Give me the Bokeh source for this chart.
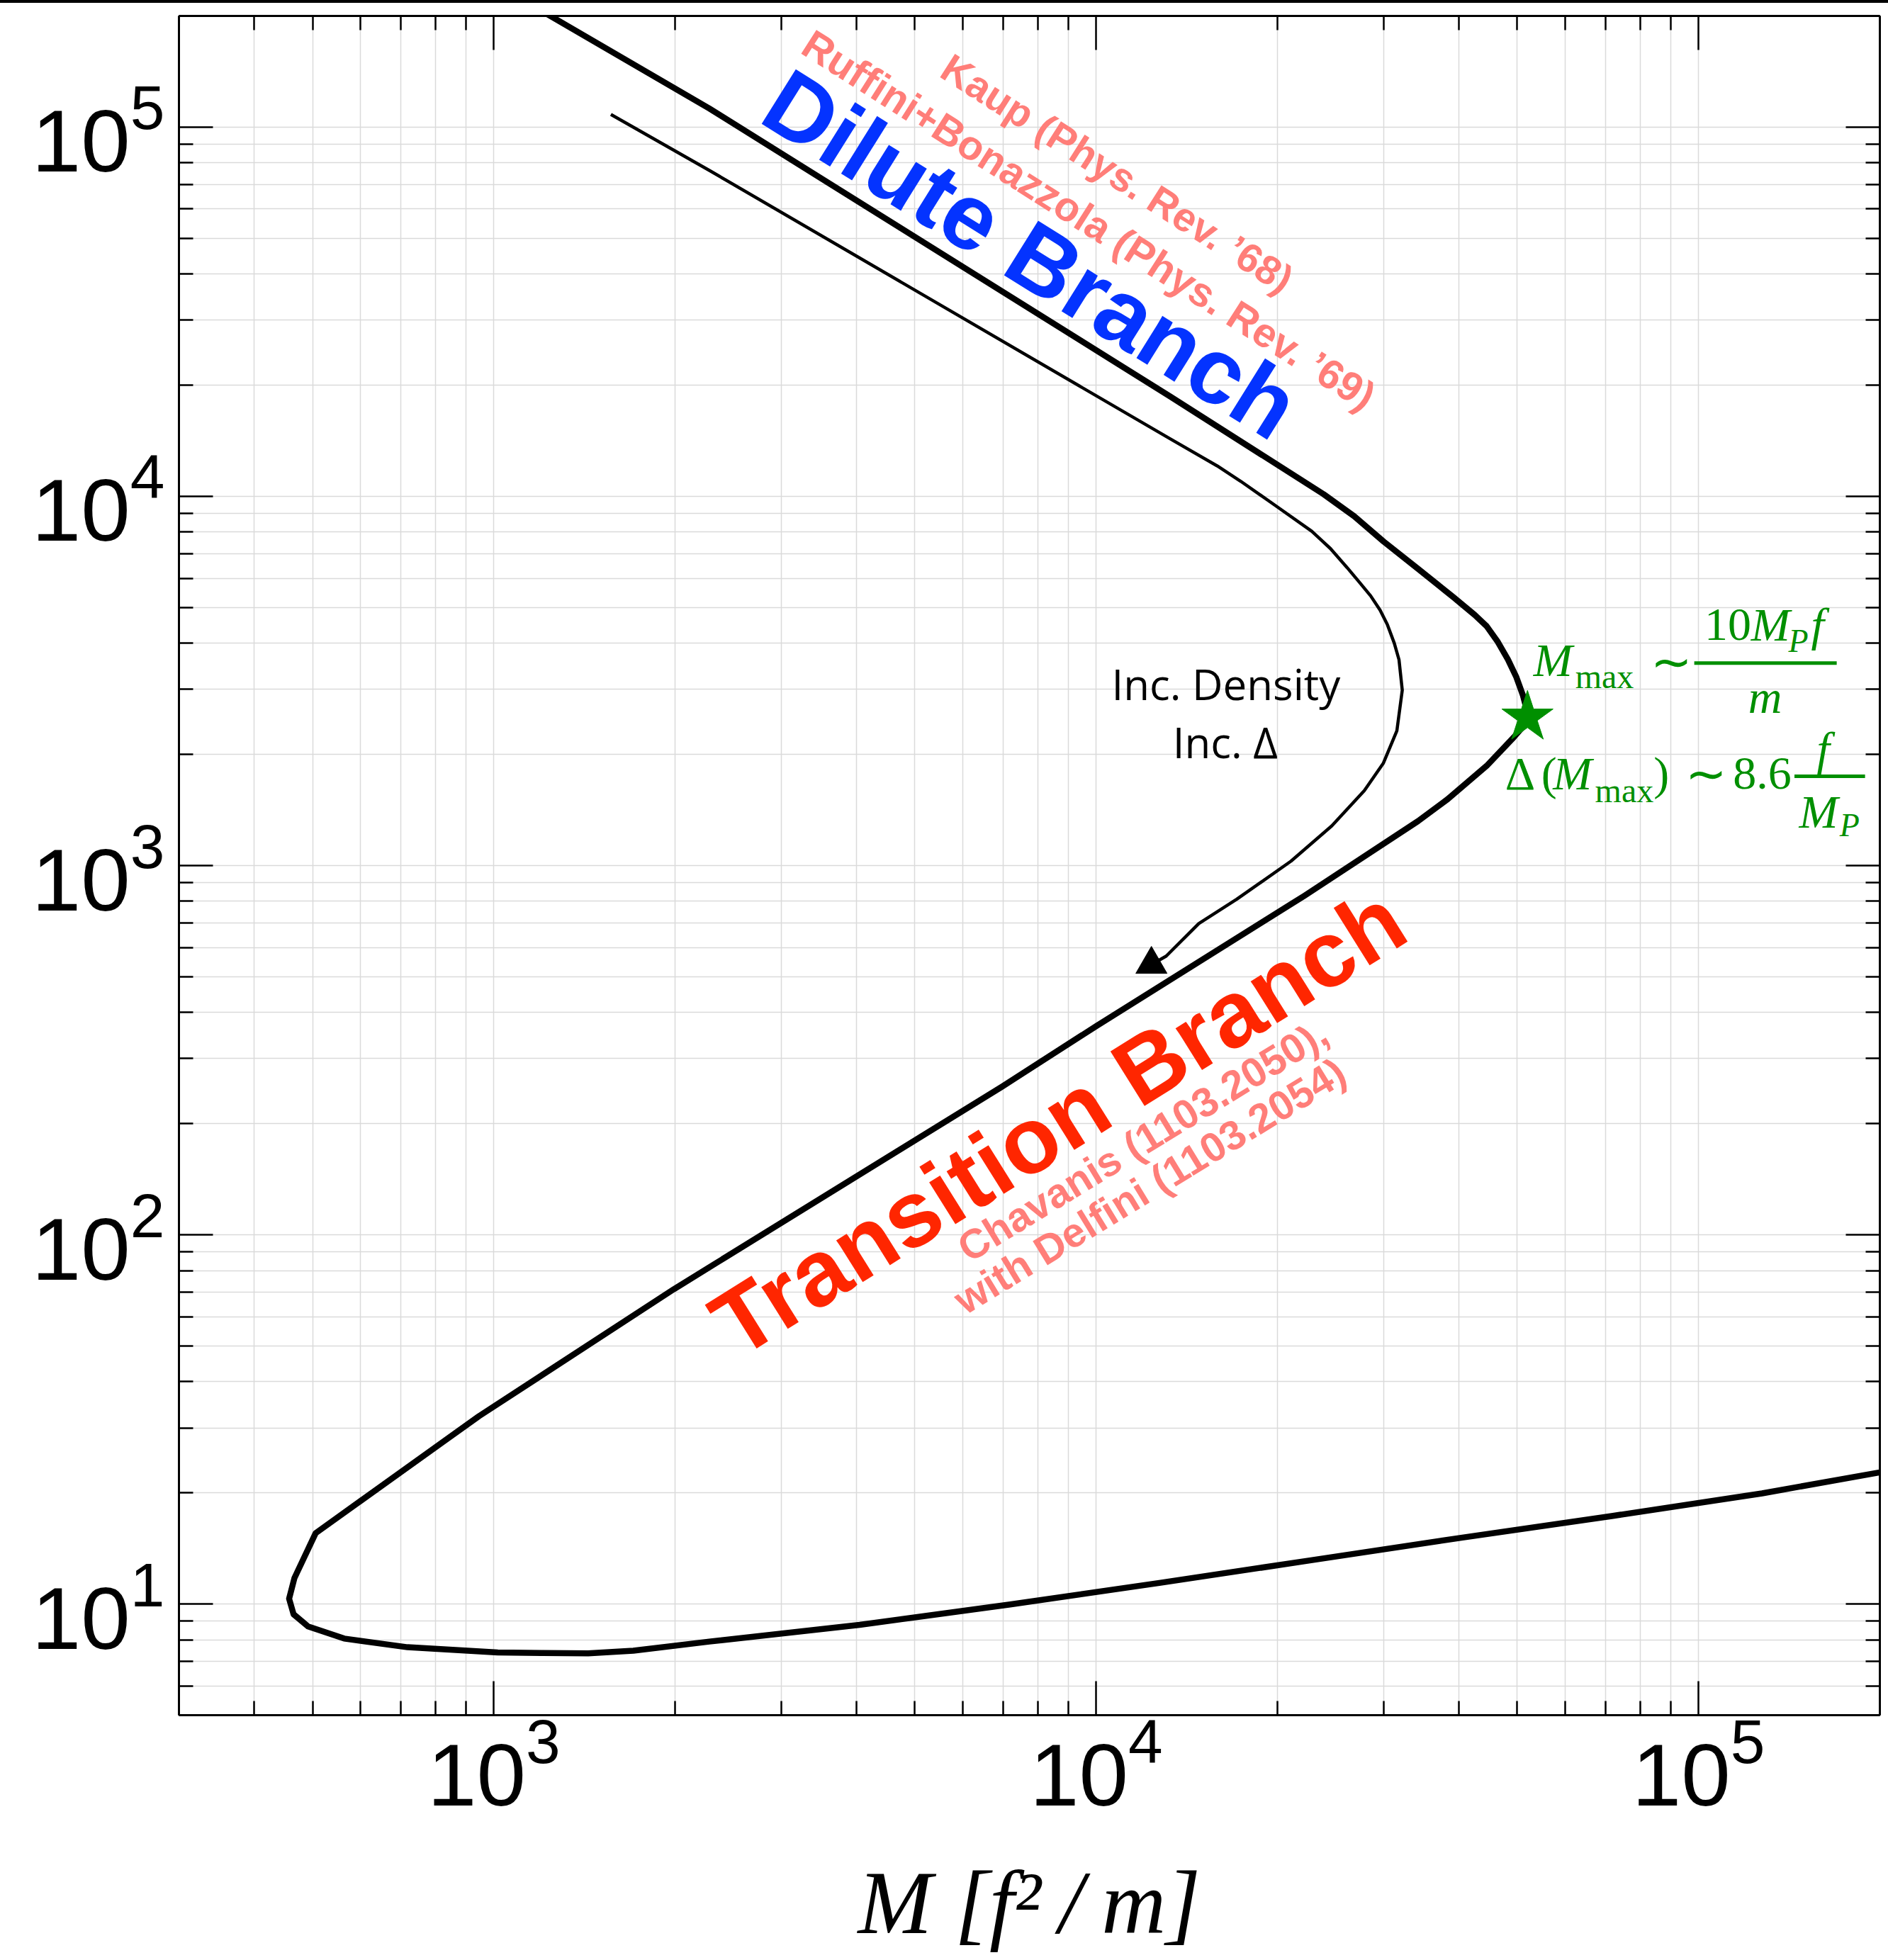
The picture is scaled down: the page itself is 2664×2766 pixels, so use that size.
import numpy as np
from bokeh.plotting import figure
from bokeh.models import (LogAxis, FixedTicker, LogTickFormatter, Range1d, Div,
                          CustomJSTickFormatter)
from bokeh.layouts import column
from bokeh.embed import file_html
from bokeh.resources import INLINE
from bokeh.core.properties import value

# ---------------- data ----------------
# main sequence of solutions: dilute branch -> M_max -> transition branch -> dense branch
branch_M = [1096, 2279, 13260, 23860, 26810, 30030, 34210, 39160, 42480, 44480, 46330,
            48250, 49840, 51080, 51630, 51850, 51630, 51080, 49310, 44480, 38330, 34210,
            22180, 10000, 6974, 1990, 944.7, 505.9, 466.5, 457.1, 465.0, 491.4, 564.1,
            718.7, 1015, 1206, 1434, 1704, 2279, 4049, 7195, 12790, 22730, 40370, 71770,
            127500, 200900, 227800]
branch_R = [225000, 112300, 18650, 10130, 8831, 7533, 6366, 5335, 4777, 4451, 4055,
            3615, 3237, 2898, 2713, 2594, 2483, 2376, 2223, 1862, 1513, 1319,
            829, 367.5, 251.8, 71.24, 32.28, 15.56, 11.76, 10.34, 9.38, 8.70, 8.064,
            7.638, 7.396, 7.367, 7.35, 7.478, 7.912, 8.783, 9.97, 11.42, 13.14, 15.12, 17.31,
            19.94, 22.76, 23.59]

# hand-drawn "increasing density" arrow
traj_M = [1564, 2279, 13260, 15880, 17380, 19900, 22790, 24490, 26090, 27300, 28550,
          29600, 30420, 31250, 31820, 32220, 31560, 29960, 27870, 24610, 21060, 17120,
          14800, 13070, 12660]
traj_R = [108200, 76320, 14320, 12090, 10980, 9408, 8049, 7217, 6415, 5872, 5376,
          4920, 4504, 4003, 3610, 2985, 2316, 1891, 1596, 1281, 1028, 811,
          696.6, 568.7, 552]
arrow_M = [12350]
arrow_R = [540]

# maximum mass point
star_M = [52000]
star_R = [2520]

# axes
x_range = (300, 2e5)
y_range = (5, 2e5)
x_major = [1e3, 1e4, 1e5]
y_major = [1e1, 1e2, 1e3, 1e4, 1e5]
x_minor = [k * 10.0 ** e for e in (2, 3, 4, 5) for k in range(2, 10)]
y_minor = [k * 10.0 ** e for e in (0, 1, 2, 3, 4, 5) for k in range(2, 10)]
x_label = "M [f\u00b2\u2009/\u2009m]"

# ---------------- figure ----------------
W, H = 2664, 2762
FRAME_W, FRAME_H = 2400, 2398
p = figure(width=W, height=H, x_axis_type="log", y_axis_type="log",
           x_range=Range1d(*x_range), y_range=Range1d(*y_range),
           output_backend="svg", toolbar_location=None,
           min_border_left=252, min_border_right=12, min_border_top=18,
           min_border_bottom=346)
p.outline_line_color = None
p.background_fill_color = "white"
p.border_fill_color = "white"

xt = FixedTicker(ticks=x_major, minor_ticks=x_minor)
yt = FixedTicker(ticks=y_major, minor_ticks=y_minor)

def style_axis(ax, ticker, show_labels, standoff=0):
    ax.ticker = ticker
    ax.axis_line_color = "black"
    ax.axis_line_width = 3
    ax.major_tick_in = 48
    ax.major_tick_out = 0
    ax.minor_tick_in = 20
    ax.minor_tick_out = 0
    ax.major_tick_line_color = "black"
    ax.minor_tick_line_color = "black"
    ax.major_tick_line_width = 2.5
    ax.minor_tick_line_width = 2.5
    if show_labels:
        ax.formatter = LogTickFormatter()
        ax.major_label_text_font = "Liberation Sans"
        ax.major_label_text_font_size = "125px"
        ax.major_label_text_color = "black"
        ax.major_label_standoff = standoff
    else:
        ax.formatter = CustomJSTickFormatter(code="return ''")
        ax.major_label_text_font_size = "1px"
        ax.major_label_standoff = 0

style_axis(p.xaxis[0], xt, True, standoff=1)
style_axis(p.yaxis[0], yt, True, standoff=20)
p.xaxis[0].axis_label = x_label
p.xaxis[0].axis_label_text_font = "Liberation Serif"
p.xaxis[0].axis_label_text_font_style = "italic"
p.xaxis[0].axis_label_text_font_size = "126px"
p.xaxis[0].axis_label_text_color = "black"
p.xaxis[0].axis_label_standoff = 65

top = LogAxis()
style_axis(top, xt, False)
p.add_layout(top, "above")
right = LogAxis()
style_axis(right, yt, False)
p.add_layout(right, "right")

for g, t in ((p.xgrid[0], xt), (p.ygrid[0], yt)):
    g.ticker = t
    g.grid_line_color = "#dadada"
    g.grid_line_width = 1.5
    g.minor_grid_line_color = "#dadada"
    g.minor_grid_line_width = 1.5

# ---------------- curves ----------------
p.line(branch_M, branch_R, line_color="black", line_width=8.5, line_join="round")
p.line(traj_M, traj_R, line_color="black", line_width=4.5, line_join="round")
p.scatter(arrow_M, arrow_R, marker="triangle", size=44, fill_color="black", line_color="black")
p.scatter(star_M, star_R, marker="star", size=76, fill_color="#008F00", line_color="#008F00")

# ---------------- annotations ----------------
PX_PER_DEC_X = FRAME_W / np.log10(x_range[1] / x_range[0])
PX_PER_DEC_Y = FRAME_H / np.log10(y_range[1] / y_range[0])

def txt(xs, ys, texts, font, size_px, color, style="normal", angle_deg=0.0,
        align="center", baseline="alphabetic", lift=0.32):
    th = np.deg2rad(angle_deg)
    xs = list(xs)
    ys = list(ys)
    if baseline == "alphabetic":
        # move the anchor a little towards the top of the glyphs (screen pixels)
        d = lift * size_px
        dx, dy = -np.sin(th) * d, -np.cos(th) * d
        xs = [x * 10 ** (dx / PX_PER_DEC_X) for x in xs]
        ys = [y * 10 ** (-dy / PX_PER_DEC_Y) for y in ys]
    p.text(x=xs, y=ys, text=texts, angle=th,
           text_font=value(font), text_font_size=f"{size_px}px", text_font_style=style,
           text_color=color, text_align=align, text_baseline=baseline)

BLUE, RED, SALMON, GREEN = "#0433FF", "#FF2600", "#FF7E79", "#008F00"
SANS = "Liberation Sans"

txt([7342], [38640], ["Dilute Branch"], SANS, 132, BLUE, "bold", -32)
txt([10560], [69960], ["Kaup (Phys. Rev. \u201968)"], SANS, 57, SALMON, "bold", -32.5)
txt([9474], [52340], ["Ruffini+Bonazzola (Phys. Rev. \u201969)"], SANS, 58, SALMON, "bold", -32.5)
txt([9191], [172.6], ["Transition Branch"], SANS, 132, RED, "bold", 32)
txt([12260], [168.4], ["Chavanis (1103.2050),"], SANS, 58, SALMON, "bold", 31.5)
txt([12590], [126.8], ["with Delfini (1103.2054)"], SANS, 58, SALMON, "bold", 31.5)
txt([16420, 16380], [2860, 1990], ["Inc. Density", "Inc. \u0394"], "Open Sans", 60, "black")

# formulae next to the maximum mass
SERIF = "Liberation Serif"
txt([53190, 122200, 153800, 120900, 57330, 157200, 146900],
    [3280, 4092, 4092, 2610, 1617, 1887, 1277],
    ["M", "M", "f", "m", "M", "f", "M"], SERIF, 66, GREEN, "italic", align="left")
txt([141000, 171500], [3801, 1204], ["P", "P"], SERIF, 46, GREEN, "italic", align="left")
txt([62420, 67320], [3042, 1491], ["max", "max"], SERIF, 48, GREEN, align="left")
txt([102300, 47730, 54810, 84210, 114100], [4092, 1617, 1617, 1617, 1617],
    ["10", "\u0394", "(", ")", "8.6"], SERIF, 66, GREEN, align="left")
txt([83180, 94980], [3551, 1766], ["\u223c", "\u223c"], SERIF, 70, GREEN,
    align="left", baseline="middle")
p.segment(x0=[98380, 144300], y0=[3536, 1745], x1=[169600, 189000], y1=[3536, 1745],
          line_color=GREEN, line_width=5)

top_bar = Div(text="", width=W, height=4, margin=0, styles={"background-color": "black"})
layout = column(top_bar, p, spacing=0)

open("out.html", "w").write(file_html(layout, INLINE, title="Boson star branches"))
